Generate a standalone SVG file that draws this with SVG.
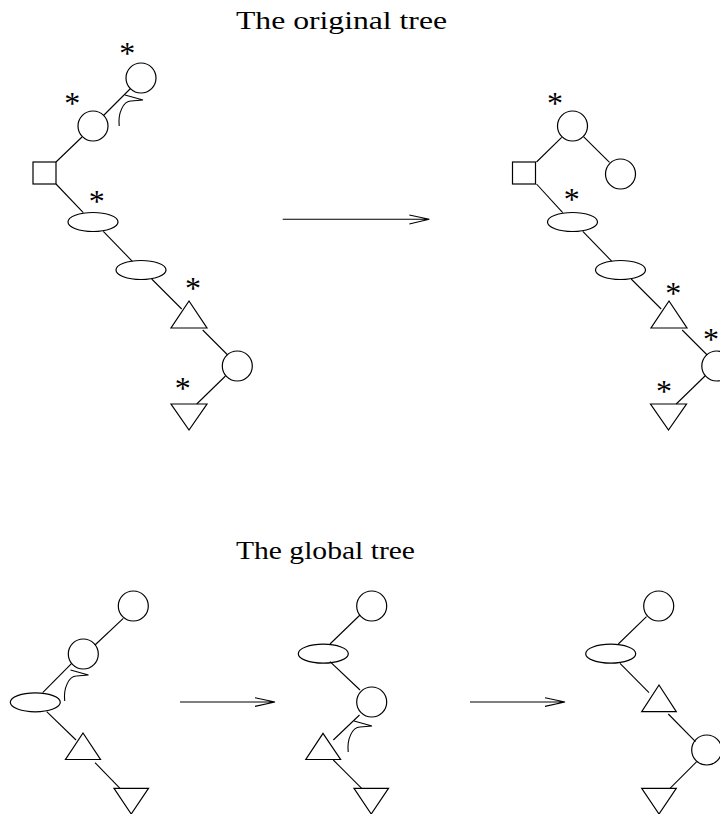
<svg xmlns="http://www.w3.org/2000/svg" xmlns:xlink="http://www.w3.org/1999/xlink" width="720" height="814" viewBox="0 0 720 814">
<style>
.n{fill:none;stroke:#000;stroke-width:1.2}
.e{fill:none;stroke:#000;stroke-width:1.1}
.t{font-family:"Liberation Serif","Times New Roman",serif;font-size:26px;fill:#000}
.s{font-family:"Liberation Serif","Times New Roman",serif;font-size:32px;fill:#000;text-anchor:middle}
</style>
<defs>
<g id="curl" class="e">
<path d="M-23.8,26 A12,21 0 0 1 -12,1"/>
<path d="M-18,-5 L0,0 L-12,1"/>
</g>
</defs>
<rect width="720" height="814" fill="#fff"/>
<text class="t" x="236" y="29" textLength="211" lengthAdjust="spacingAndGlyphs">The original tree</text>
<text class="t" x="236" y="559" textLength="179" lengthAdjust="spacingAndGlyphs">The global tree</text>

<g id="connectors">
<!-- top-left tree -->
<line class="e" x1="103.5" y1="115.5" x2="130.5" y2="88.5"/>
<line class="e" x1="56" y1="162" x2="82" y2="137"/>
<line class="e" x1="56" y1="184" x2="83.3" y2="212.7"/>
<line class="e" x1="103.3" y1="231.3" x2="132.3" y2="261.3"/>
<line class="e" x1="151.7" y1="279" x2="181.7" y2="309"/>
<line class="e" x1="202.7" y1="330" x2="227.7" y2="355"/>
<line class="e" x1="225.5" y1="376" x2="196.7" y2="404"/>
<!-- top-right tree -->
<line class="e" x1="583.5" y1="136.7" x2="609.5" y2="162.3"/>
<line class="e" x1="536.5" y1="162" x2="561.7" y2="137.3"/>
<line class="e" x1="536.5" y1="184" x2="562.7" y2="212.7"/>
<line class="e" x1="582.8" y1="231.3" x2="611.8" y2="261.3"/>
<line class="e" x1="631.2" y1="279" x2="661.2" y2="309"/>
<line class="e" x1="682.2" y1="330" x2="707.2" y2="355"/>
<line class="e" x1="705" y1="376" x2="676.2" y2="404"/>
<!-- bottom-left tree -->
<line class="e" x1="95" y1="645" x2="123.3" y2="618.3"/>
<line class="e" x1="42.7" y1="692.7" x2="71.7" y2="663.3"/>
<line class="e" x1="46.7" y1="711.7" x2="76" y2="740"/>
<line class="e" x1="95" y1="762.7" x2="120" y2="788.3"/>
<!-- bottom-middle tree -->
<line class="e" x1="330" y1="644" x2="360" y2="615"/>
<line class="e" x1="330" y1="661.7" x2="360" y2="690"/>
<line class="e" x1="359.5" y1="715" x2="333.3" y2="740"/>
<line class="e" x1="333.3" y1="760" x2="361.7" y2="788.3"/>
<!-- bottom-right tree -->
<line class="e" x1="618.3" y1="644" x2="646.5" y2="616.7"/>
<line class="e" x1="620" y1="663.3" x2="649" y2="692.7"/>
<line class="e" x1="668.3" y1="714" x2="695.5" y2="741.7"/>
<line class="e" x1="696.7" y1="761.7" x2="670" y2="788.3"/>
<!-- transformation arrows -->
<path class="e" d="M282.7,219.3 H429.3 M409.3,215 L429.3,219.3 L409.3,224"/>
<path class="e" d="M180,702 H275 M255,697.7 L275,702 L255,706.4"/>
<path class="e" d="M470,702 H565 M545,697.7 L565,702 L545,706.4"/>
<!-- curled rotation arrows -->
<use xlink:href="#curl" transform="translate(143,100)"/>
<use xlink:href="#curl" transform="translate(88.5,675)"/>
<use xlink:href="#curl" transform="translate(372,726)"/>
</g>

<!-- top-left tree nodes -->
<g id="tl_a"><circle class="n" cx="141" cy="78" r="15"/><text class="s" x="127.3" y="64.3">*</text></g>
<g id="tl_b"><circle class="n" cx="93" cy="126" r="15"/><text class="s" x="72.3" y="114.3">*</text></g>
<g id="tl_sq"><rect class="n" x="33" y="162" width="23" height="22"/></g>
<g id="tl_e1"><ellipse class="n" cx="93" cy="222" rx="25" ry="9.5"/><text class="s" x="96.7" y="211.7">*</text></g>
<g id="tl_e2"><ellipse class="n" cx="141" cy="270" rx="25" ry="9.5"/></g>
<g id="tl_t"><polygon class="n" points="189,301 171,328 207,328"/><text class="s" x="193" y="299.3">*</text></g>
<g id="tl_c"><circle class="n" cx="237.3" cy="366" r="15"/></g>
<g id="tl_v"><polygon class="n" points="171,404 207,404 189,430"/><text class="s" x="182.7" y="399.3">*</text></g>

<!-- top-right tree nodes -->
<g id="tr_b"><circle class="n" cx="572.5" cy="126" r="15"/><text class="s" x="555" y="114.3">*</text></g>
<g id="tr_a"><circle class="n" cx="620.5" cy="174" r="15"/></g>
<g id="tr_sq"><rect class="n" x="512.5" y="162" width="23" height="22"/></g>
<g id="tr_e1"><ellipse class="n" cx="572.5" cy="222" rx="25" ry="9.5"/><text class="s" x="571.7" y="210">*</text></g>
<g id="tr_e2"><ellipse class="n" cx="620.5" cy="270" rx="25" ry="9.5"/></g>
<g id="tr_t"><polygon class="n" points="669,301 651,328 687,328"/><text class="s" x="673.3" y="304">*</text></g>
<g id="tr_c"><circle class="n" cx="716.8" cy="366" r="15"/><text class="s" x="711" y="350">*</text></g>
<g id="tr_v"><polygon class="n" points="650.5,404 686.5,404 668.5,430"/><text class="s" x="664" y="401.7">*</text></g>

<!-- bottom-left tree nodes -->
<g id="bl_a"><circle class="n" cx="133.3" cy="606" r="15"/></g>
<g id="bl_b"><circle class="n" cx="83.3" cy="654" r="15"/></g>
<g id="bl_e"><ellipse class="n" cx="35.3" cy="702.3" rx="25" ry="9.5"/></g>
<g id="bl_t"><polygon class="n" points="83,733 65.5,759.5 100.5,759.5"/></g>
<g id="bl_v"><polygon class="n" points="114,788.3 148.5,788.3 131.2,814"/></g>

<!-- bottom-middle tree nodes -->
<g id="bm_a"><circle class="n" cx="371.7" cy="606" r="15"/></g>
<g id="bm_e"><ellipse class="n" cx="323.3" cy="653.7" rx="25" ry="9.5"/></g>
<g id="bm_b"><circle class="n" cx="371.7" cy="702" r="15"/></g>
<g id="bm_t"><polygon class="n" points="323,733.3 305.8,759.5 340.6,759.5"/></g>
<g id="bm_v"><polygon class="n" points="354,788.3 388.5,788.3 371.2,814"/></g>

<!-- bottom-right tree nodes -->
<g id="br_a"><circle class="n" cx="658.7" cy="606" r="15"/></g>
<g id="br_e"><ellipse class="n" cx="610.7" cy="653.7" rx="25" ry="9.5"/></g>
<g id="br_t"><polygon class="n" points="659,685 641.7,711.7 676.3,711.7"/></g>
<g id="br_c"><circle class="n" cx="706.7" cy="750" r="15"/></g>
<g id="br_v"><polygon class="n" points="641.7,788.3 676.3,788.3 659,814"/></g>
</svg>
